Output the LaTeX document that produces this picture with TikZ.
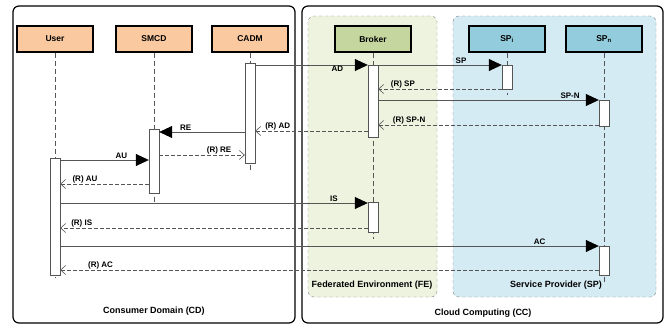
\documentclass[tikz,border=0pt]{standalone}
\usepackage{fontspec}
\setmainfont{Liberation Sans}
\usetikzlibrary{arrows.meta,positioning}

\definecolor{peach}{HTML}{FAC9A0}
\definecolor{brokergreen}{HTML}{C5D69E}
\definecolor{spblue}{HTML}{93CDDD}
\definecolor{fezone}{HTML}{EEF3E0}
\definecolor{spzone}{HTML}{D5EBF3}
\definecolor{linegray}{HTML}{555555}

\tikzset{
  actor/.style={draw, line width=1.2pt, minimum width=76pt, minimum height=26pt,
    inner sep=0pt, font=\bfseries\fontsize{8.5}{10}\selectfont},
  act/.style={draw=linegray, fill=white, minimum width=10pt, inner sep=0pt},
  life/.style={draw=linegray, line width=0.6pt, dash pattern=on 5pt off 3pt},
  msg/.style={draw=linegray, line width=0.7pt, -{Triangle[length=13pt,width=12pt,black]}},
  ret/.style={draw=linegray, line width=0.6pt, dash pattern=on 4pt off 2pt,
    -{Straight Barb[length=5pt,width=9pt,line width=0.6pt]}},
  lbl/.style={font=\bfseries\fontsize{8}{9}\selectfont, inner sep=1pt, above},
  zonelbl/.style={font=\bfseries\fontsize{9}{10}\selectfont, inner sep=0pt},
}

\begin{document}
\begin{tikzpicture}[x=1pt, y=-1pt]
\useasboundingbox[fill=white] (0,0) rectangle (669,327);

% domains
\draw[line width=1.2pt, rounded corners=6pt] (13,6) rectangle (295,323);
\draw[line width=1.2pt, rounded corners=6pt] (302,6) rectangle (663,323);
\draw[fill=fezone, draw=gray, dashed, rounded corners=6pt] (308,16) rectangle (437,297);
\draw[fill=spzone, draw=gray, dashed, rounded corners=6pt] (453,16) rectangle (656,297);

\node[zonelbl] (cd) at (154,311) {Consumer Domain (CD)};
\node[zonelbl] (cc) at (483,313) {Cloud Computing (CC)};
\node[zonelbl] (fe) at (372,285) {Federated Environment (FE)};
\node[zonelbl] (sp) at (556,285) {Service Provider (SP)};

% participants
\node[actor, fill=peach] (user) at (55,39) {User};
\node[actor, fill=peach] (smcd) at (154,39) {SMCD};
\node[actor, fill=peach] (cadm) at (250,39) {CADM};
\node[actor, fill=brokergreen] (broker) at (373,39) {Broker};
\node[actor, fill=spblue] (spi) at (507,39) {SP\textsubscript{i}};
\node[actor, fill=spblue] (spn) at (604,39) {SP\textsubscript{n}};

% lifelines
\draw[life] (user.south) -- (user.south |- 0,278);
\draw[life] (smcd.south) -- (smcd.south |- 0,202);
\draw[life] (cadm.south) -- (cadm.south |- 0,170);
\draw[life] (broker.south) -- (broker.south |- 0,239);
\draw[life] (spi.south) -- (spi.south |- 0,95);
\draw[life] (spn.south) -- (spn.south |- 0,282);

% activations
\node[act, minimum height=100pt] (cadmA) at (250,113) {};
\node[act, minimum height=72pt] (brokerA) at (373,101) {};
\node[act, minimum height=24pt] (spiA) at (507,77) {};
\node[act, minimum height=26pt] (spnA) at (604,113) {};
\node[act, minimum height=64pt] (smcdA) at (154,161) {};
\node[act, minimum height=117pt] (userA) at (55,216.5) {};
\node[act, minimum height=30pt] (brokerB) at (373,217) {};
\node[act, minimum height=29pt] (spnB) at (604,260.5) {};

% messages
\draw[msg] (cadmA.east |- 0,65) -- node[lbl, below, pos=0.73] {AD} (brokerA.west |- 0,65);
\draw[msg] (brokerA.east |- 0,65) -- node[lbl, pos=0.67] {SP} (spiA.west |- 0,65);
\draw[ret] (spiA.west |- 0,89) -- node[lbl, pos=0.8] {(R) SP} (brokerA.east |- 0,89);
\draw[msg] (brokerA.east |- 0,100) -- node[lbl, pos=0.87] {SP-N} (spnA.west |- 0,100);
\draw[ret] (spnA.west |- 0,125) -- node[lbl, pos=0.86] {(R) SP-N} (brokerA.east |- 0,125);
\draw[ret] (brokerA.west |- 0,131) -- node[lbl, pos=0.8] {(R) AD} (cadmA.east |- 0,131);
\draw[msg] (cadmA.west |- 0,132) -- node[lbl, pos=0.69] {RE} (smcdA.east |- 0,132);
\draw[ret] (smcdA.east |- 0,155) -- node[lbl, pos=0.7] {(R) RE} (cadmA.west |- 0,155);
\draw[msg] (userA.east |- 0,160) -- node[lbl, pos=0.69] {AU} (smcdA.west |- 0,160);
\draw[ret] (smcdA.west |- 0,184) -- node[lbl, pos=0.72] {(R) AU} (userA.east |- 0,184);
\draw[msg] (userA.east |- 0,203) -- node[lbl, pos=0.89] {IS} (brokerB.west |- 0,203);
\draw[ret] (brokerB.west |- 0,228) -- node[lbl, pos=0.93] {(R) IS} (userA.east |- 0,228);
\draw[msg] (userA.east |- 0,246) -- node[lbl, pos=0.89] {AC} (spnB.west |- 0,246);
\draw[ret] (spnB.west |- 0,270) -- node[lbl, pos=0.925] {(R) AC} (userA.east |- 0,270);
\end{tikzpicture}
\end{document}
